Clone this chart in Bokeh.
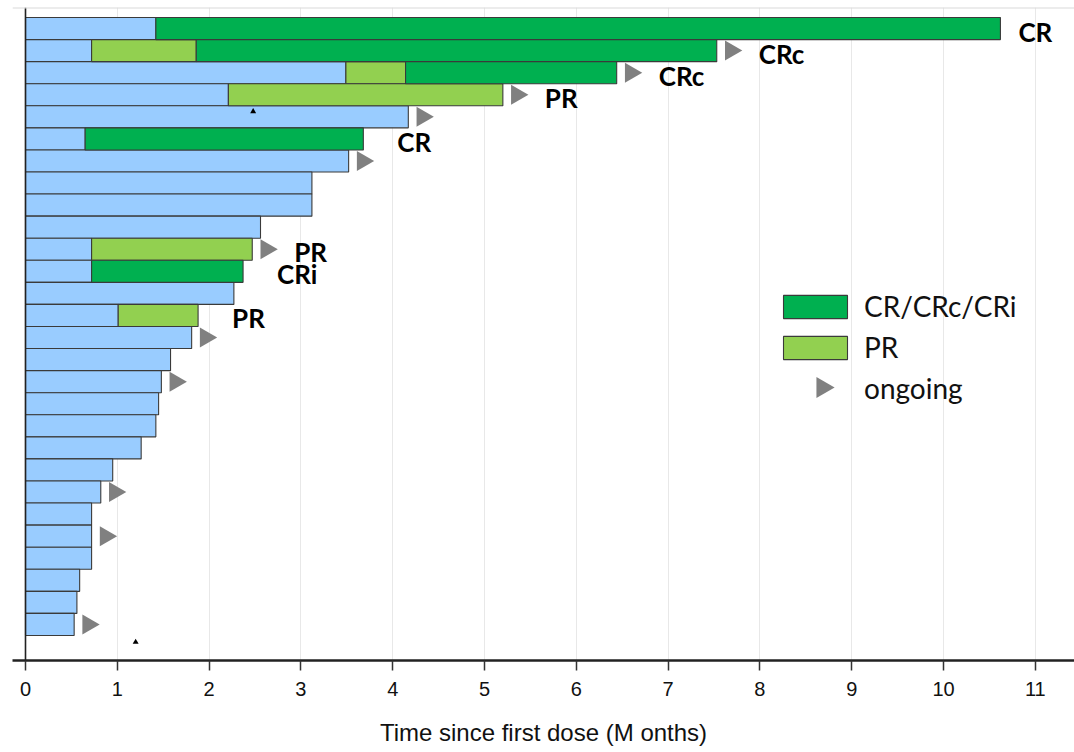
import math
from bokeh.plotting import figure
from bokeh.models import ColumnDataSource, Range1d, FixedTicker, Span, Legend, LegendItem
from bokeh.core.properties import value
from bokeh.embed import file_html
from bokeh.resources import INLINE

# ---------------- data (months since first dose) ----------------
patients = list(range(1, 29))  # row 1 = top
blue_end = [1.42, 0.72, 3.49, 2.21, 4.17, 0.65, 3.52, 3.12, 3.12, 2.56,
            0.72, 0.72, 2.27, 1.01, 1.81, 1.58, 1.48, 1.45, 1.42, 1.26,
            0.95, 0.82, 0.72, 0.72, 0.72, 0.59, 0.56, 0.53]
pr_end = [None, 1.86, 4.14, 5.20, None, None, None, None, None, None,
          2.47, None, None, 1.88, None, None, None, None, None, None,
          None, None, None, None, None, None, None, None]
cr_end = [10.62, 7.53, 6.44, None, None, 3.68, None, None, None, None,
          None, 2.37, None, None, None, None, None, None, None, None,
          None, None, None, None, None, None, None, None]
response = ["CR", "CRc", "CRc", "PR", "", "CR", "", "", "", "",
            "PR", "CRi", "", "PR", "", "", "", "", "", "",
            "", "", "", "", "", "", "", ""]
ongoing = [0, 1, 1, 1, 1, 0, 1, 0, 0, 0,
           1, 0, 0, 0, 1, 0, 1, 0, 0, 0,
           0, 1, 0, 1, 0, 0, 0, 1]
caret_x = [2.48, 1.20]
caret_row = [4.76, 28.8]
ticks = list(range(0, 12))

# ---------------- colours ----------------
C_BLUE = "#99ccff"
C_CR = "#00b050"
C_PR = "#92d050"
C_ARROW = "#808080"
C_EDGE = "#3a3a3a"

W, H = 1074, 752
BL, BT, BB = 12, 7, 92
X0, X1 = -0.1416, 11.427
Y_TOP, Y_BOT = 0.0462, 29.634
frame_w = W - BL
frame_h = H - BT - BB
px_per_month = frame_w / (X1 - X0)
px_per_row = frame_h / (Y_BOT - Y_TOP)

p = figure(width=W, height=H, output_backend="svg", toolbar_location=None,
           x_range=Range1d(X0, X1), y_range=Range1d(Y_BOT, Y_TOP),
           y_axis_location=None,
           min_border_left=BL, min_border_right=0, min_border_top=BT, min_border_bottom=BB)
p.outline_line_color = None
p.background_fill_color = "white"
p.border_fill_color = "white"

# segments
blue = ColumnDataSource(dict(y=patients, left=[0.0] * len(patients), right=blue_end))
pr_y, pr_l, pr_r = [], [], []
cr_y, cr_l, cr_r = [], [], []
ends = []
for i, row in enumerate(patients):
    e = blue_end[i]
    if pr_end[i] is not None:
        pr_y.append(row); pr_l.append(blue_end[i]); pr_r.append(pr_end[i])
        e = pr_end[i]
    if cr_end[i] is not None:
        cr_y.append(row); cr_l.append(e); cr_r.append(cr_end[i])
        e = cr_end[i]
    ends.append(e)

bar_kw = dict(height=1.0, line_color=C_EDGE, line_width=1.1)
p.hbar(y="y", left="left", right="right", source=blue, fill_color=C_BLUE, **bar_kw)
r_pr = p.hbar(y=pr_y, left=pr_l, right=pr_r, fill_color=C_PR, **bar_kw)
r_cr = p.hbar(y=cr_y, left=cr_l, right=cr_r, fill_color=C_CR, **bar_kw)

# ongoing arrows
arr_x = [ends[i] + 14 / px_per_month for i in range(len(patients)) if ongoing[i]]
arr_y = [patients[i] for i in range(len(patients)) if ongoing[i]]
p.scatter(x=arr_x, y=arr_y, marker="triangle", size=20, angle=-math.pi / 2,
          fill_color=C_ARROW, line_color=None)

# small artefact carets
p.scatter(x=caret_x, y=caret_row, marker="triangle", size=6, fill_color="black", line_color=None)

# response labels
lab = dict(x=[], y=[], text=[], dx=[])
for i, row in enumerate(patients):
    if response[i]:
        lab["x"].append(ends[i]); lab["y"].append(row); lab["text"].append(response[i])
        lab["dx"].append(42 if ongoing[i] else (18 if i == 0 else 34))
p.text(x="x", y="y", text="text", x_offset="dx", y_offset=3, source=ColumnDataSource(lab),
       text_font=value("Lato"), text_font_style="bold", text_font_size="26px",
       text_color="black", text_align="left", text_baseline="middle")

# y axis line at x = 0 and top frame line
p.add_layout(Span(location=0, dimension="height", line_color="#222222", line_width=1.6))
p.add_layout(Span(location=Y_TOP, dimension="width", line_color="#d9d9d9", line_width=2))

# x axis
ax = p.xaxis[0]
ax.ticker = FixedTicker(ticks=ticks)
ax.axis_line_color = "#222222"
ax.axis_line_width = 2.5
ax.major_tick_line_color = "#333333"
ax.major_tick_line_width = 1.5
ax.major_tick_out = 10
ax.major_tick_in = 0
ax.minor_tick_line_color = None
ax.major_label_text_font = "Liberation Sans Narrow, Liberation Sans"
ax.major_label_text_font_size = "20px"
ax.major_label_text_color = "#111111"
ax.major_label_standoff = 11
ax.axis_label = "Time since first dose (M onths)"
ax.axis_label_text_font = "Liberation Sans"
ax.axis_label_text_font_size = "24px"
ax.axis_label_text_font_style = "normal"
ax.axis_label_text_color = "#111111"
ax.axis_label_standoff = 20

p.xgrid.ticker = FixedTicker(ticks=ticks)
p.xgrid.grid_line_color = "#e8e8e8"
p.xgrid.grid_line_width = 1
p.ygrid.grid_line_color = None

# legend: the "ongoing" key is drawn as a rotated marker next to the legend entry
r_key = p.scatter(x=[], y=[], marker="triangle", fill_alpha=0, line_alpha=0)
leg = Legend(items=[LegendItem(label="CR/CRc/CRi", renderers=[r_cr]),
                    LegendItem(label="PR", renderers=[r_pr]),
                    LegendItem(label="ongoing", renderers=[r_key])],
             location=(763, 255), glyph_width=80, glyph_height=29,
             spacing=7, padding=0, margin=0, label_standoff=9,
             border_line_color=None, background_fill_alpha=0,
             label_text_font="Lato", label_text_font_size="28px", label_text_color="#111111")
p.add_layout(leg)
key_px, key_py = 822, 387  # screen position of the ongoing key inside the legend
p.scatter(x=[X0 + (key_px - BL) / px_per_month], y=[Y_TOP + (key_py - BT) / px_per_row],
          marker="triangle", size=21, angle=-math.pi / 2, fill_color=C_ARROW, line_color=None)

open("out.html", "w").write(file_html(p, INLINE))
